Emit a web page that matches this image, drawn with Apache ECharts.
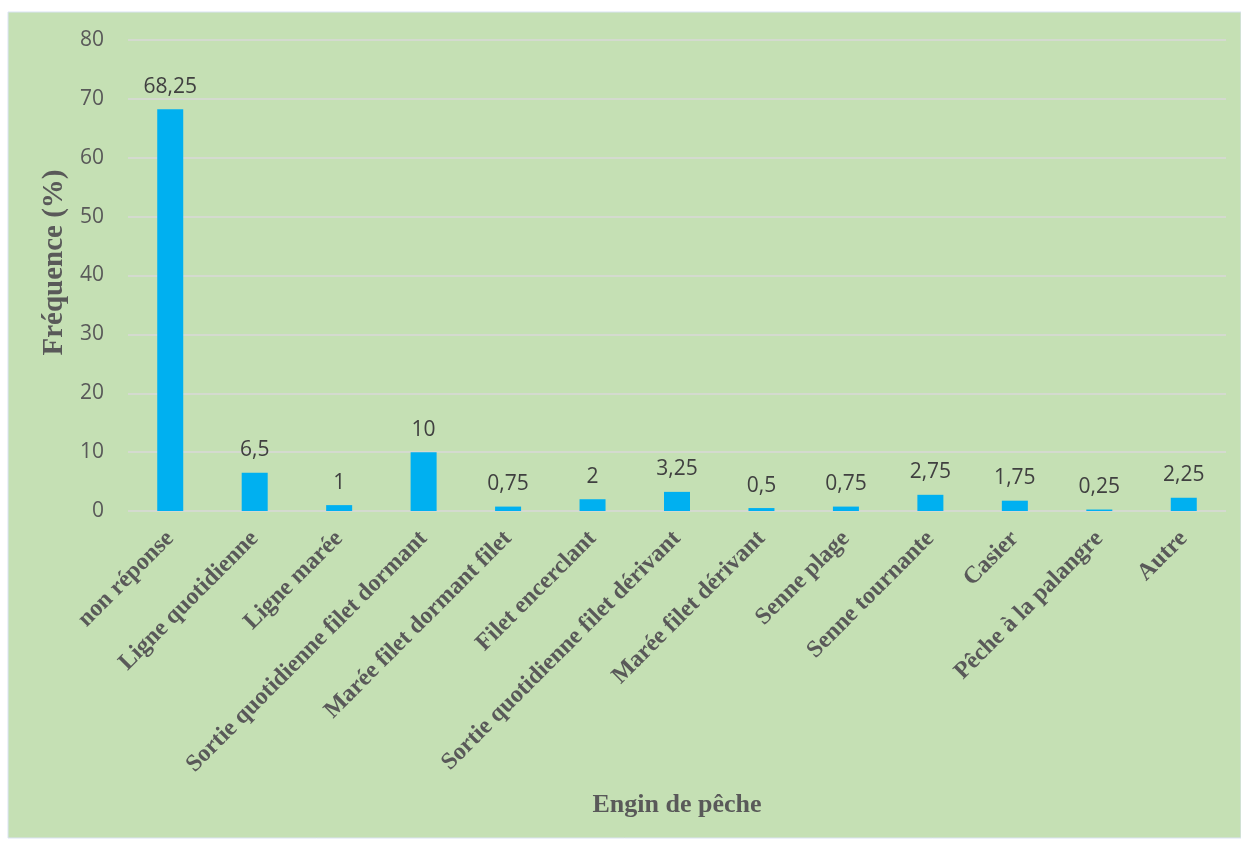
<!DOCTYPE html>
<html>
<head>
<meta charset="utf-8">
<script src="https://cdn.jsdelivr.net/npm/echarts@6/dist/echarts.min.js"></script>
<style>
  html, body { margin: 0; padding: 0; background: #fff; }
  #chart { width: 1241px; height: 841px; }
</style>
</head>
<body>
<div id="chart"></div>
<script>
// données
var categories = ['non réponse', 'Ligne quotidienne', 'Ligne marée', 'Sortie quotidienne filet dormant',
  'Marée filet dormant filet', 'Filet encerclant', 'Sortie quotidienne filet dérivant',
  'Marée filet dérivant', 'Senne plage', 'Senne tournante', 'Casier', 'Pêche à la palangre', 'Autre'];
var frequences = [68.25, 6.5, 1, 10, 0.75, 2, 3.25, 0.5, 0.75, 2.75, 1.75, 0.25, 2.25];
var yTicks = [0, 10, 20, 30, 40, 50, 60, 70, 80];

(function () {
  var myChart = echarts.init(document.getElementById('chart'));
  var option = {
    backgroundColor: '#fff',
    // fond vert de la zone du graphique
    graphic: [{
      type: 'rect',
      z: -10,
      shape: { x: 8, y: 12, width: 1233, height: 826 },
      style: { fill: '#C5E0B4', stroke: '#dae3f3', lineWidth: 1 }
    }],
    grid: { left: 128, right: 15, top: 40, bottom: 330 },
    xAxis: {
      type: 'category',
      data: categories,
      name: 'Engin de pêche',
      nameLocation: 'middle',
      nameGap: 281,
      nameTextStyle: { fontFamily: 'Liberation Serif', fontWeight: 'bold', fontSize: 26, color: '#595959' },
      axisLine: { show: false },
      axisTick: { show: false },
      axisLabel: {
        interval: 0,
        rotate: 45,
        margin: 24,
        fontFamily: 'Liberation Serif',
        fontWeight: 'bold',
        fontSize: 24,
        color: '#595959'
      }
    },
    yAxis: {
      type: 'value',
      min: yTicks[0],
      max: yTicks[yTicks.length - 1],
      interval: 10,
      name: 'Fréquence (%)',
      nameLocation: 'middle',
      nameGap: 50,
      nameTextStyle: {
        fontFamily: 'Liberation Serif', fontWeight: 'bold', fontSize: 29, color: '#595959',
        padding: [0, 0, 0, 26]
      },
      axisLine: { show: false },
      axisTick: { show: false },
      axisLabel: { margin: 24, fontFamily: 'Open Sans', fontSize: 21, color: '#595959' },
      splitLine: { lineStyle: { color: '#d9d9d9', width: 1.5 } }
    },
    series: [{
      type: 'bar',
      data: frequences,
      barWidth: 26,
      itemStyle: { color: '#00B0F0' },
      label: {
        show: true,
        position: 'top',
        distance: 12,
        fontFamily: 'Open Sans',
        fontSize: 21,
        color: '#404040',
        formatter: function (p) { return String(p.value).replace('.', ','); }
      }
    }]
  };
  myChart.setOption(option);
})();
</script>
</body>
</html>
